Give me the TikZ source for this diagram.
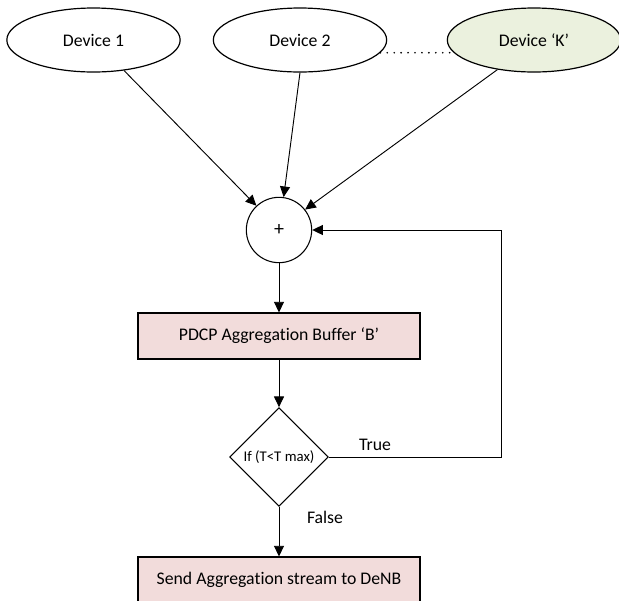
\documentclass[tikz,border=0pt]{standalone}
\usepackage{fontspec}
\setmainfont{Carlito}[Ligatures={NoCommon}]
\usetikzlibrary{shapes.geometric,arrows.meta}
\definecolor{bufpink}{HTML}{F2DCDB}
\definecolor{devgreen}{HTML}{EBF1DE}
\begin{document}
\begin{tikzpicture}[x=0.75pt,y=-0.75pt,
        font=\fontsize{13.3}{16}\selectfont,
        device/.style={draw,ellipse,line width=0.9pt,minimum width=130pt,minimum height=48pt,inner sep=0pt},
        buffer/.style={draw,fill=bufpink,line width=0.8pt,minimum width=211.5pt,minimum height=34.5pt,inner sep=0pt},
        flow/.style={line width=0.7pt,-{Triangle[length=8pt,width=7.5pt]}}]
        \clip (0,0) rectangle (619,601);
        \node[device] (dev1) at (93.5,40) {Device 1};
        \node[device] (dev2) at (300,40) {Device 2};
        \node[device,fill=devgreen] (devk) at (534,40) {Device `K'};
        \node[draw,circle,line width=0.8pt,minimum size=49pt,inner sep=0pt,font=\fontsize{15}{18}\selectfont] (plus) at (279,230) {+};
        \node[buffer] (buf) at (279,336) {PDCP Aggregation Buffer `B'};
        \node[draw,diamond,line width=0.8pt,minimum width=74pt,minimum height=74pt,inner sep=0pt,
            font=\fontsize{11.1}{13}\selectfont] (test) at (279,457) {If (T<T max)};
        \node[buffer] (send) at (279,580) {Send Aggregation stream to DeNB};
        \node (truelbl) at (375,445) {True};
        \node (falselbl) at (325,517) {False};
        \coordinate (loop) at (501,457);
        \draw[line width=1.4pt,line cap=round,dash pattern=on 0pt off 5.2pt] (dev2.-9) -- (devk.189);
        \draw[flow] (dev1.-45) -- (plus.133);
        \draw[flow] (dev2.south) -- (plus.82);
        \draw[flow] (devk.-141) -- (plus.38);
        \draw[flow] (plus.south) -- (buf.north);
        \draw[flow] (buf.south) -- (test.north);
        \draw[flow] (test.east) -- (loop) |- (plus.east);
        \draw[flow] (test.south) -- (send.north);
    \end{tikzpicture}
\end{document}
